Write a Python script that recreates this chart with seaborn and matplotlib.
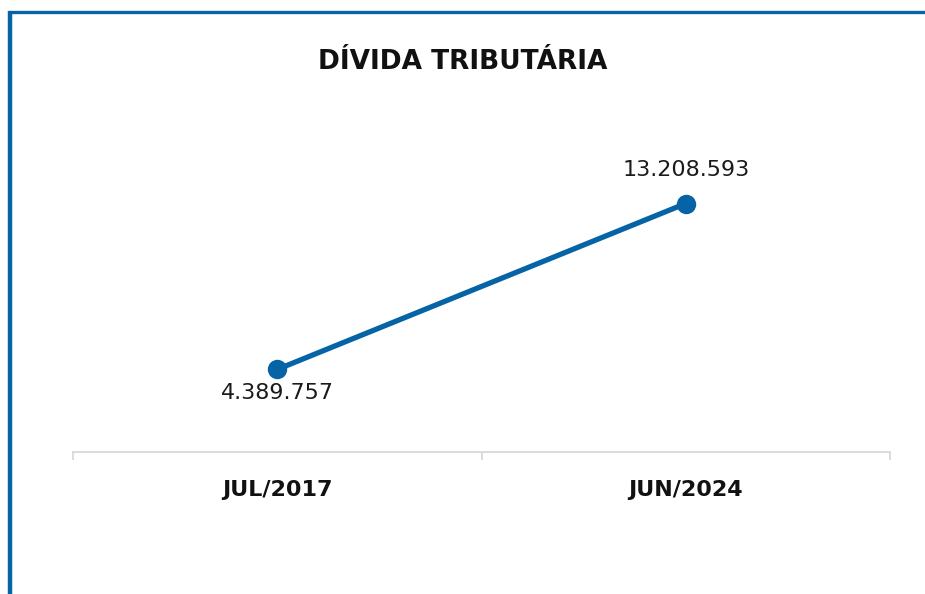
import numpy as np
import pandas as pd
import matplotlib
matplotlib.use("Agg")
import matplotlib.pyplot as plt
import seaborn as sns
from matplotlib.lines import Line2D

periods = ["JUL/2017", "JUN/2024"]
values = [4389757, 13208593]
labels = ["4.389.757", "13.208.593"]

blue = "#0563A6"

sns.set_style("white")
plt.rcParams["font.family"] = ["DejaVu Sans"]

fig = plt.figure(figsize=(9.25, 5.94), dpi=100)
ax = fig.add_axes([0.0789, 0.2391, 0.8833, 0.5067])

df = pd.DataFrame({"periodo": periods, "valor": values})
sns.lineplot(data=df, x="periodo", y="valor", ax=ax, color=blue,
             linewidth=3.8, marker="o", markersize=14, markeredgewidth=0)

# data labels: first below the point, last above
ax.annotate(labels[0], (0, values[0]), xytext=(0, -17), textcoords="offset points",
            ha="center", va="center", fontsize=16, color="#1a1a1a")
ax.annotate(labels[1], (1, values[1]), xytext=(0, 24), textcoords="offset points",
            ha="center", va="center", fontsize=16, color="#1a1a1a")

ax.set_xlim(-0.5, 1.5)
ax.set_ylim(0, 16000000)
ax.set_yticks([])
ax.set_xlabel("")
ax.set_ylabel("")
for s in ["top", "right", "left"]:
    ax.spines[s].set_visible(False)
ax.spines["bottom"].set_color("#d9d9d9")
ax.spines["bottom"].set_linewidth(1.3)

ax.set_xticks([0, 1])
ax.set_xticklabels(periods, fontsize=16, fontweight="bold", color="#111111")
ax.tick_params(axis="x", which="major", length=0, pad=20)
ax.set_xticks([-0.5, 0.5, 1.5], minor=True)
ax.tick_params(axis="x", which="minor", bottom=True, length=6, width=1.3, color="#d9d9d9")

fig.text(0.5005, 0.895, "DÍVIDA TRIBUTÁRIA", ha="center", va="center",
         fontsize=19, fontweight="bold", color="#111111")

# frame lines on the left and top edge
fig.add_artist(Line2D([10 / 925, 10 / 925], [0, 1 - 11 / 594], color=blue,
                      linewidth=3.2, solid_capstyle="butt"))
fig.add_artist(Line2D([8 / 925, 1], [1 - 12 / 594, 1 - 12 / 594], color=blue,
                      linewidth=2.4, solid_capstyle="butt"))

fig.savefig("out.png", dpi=100)
